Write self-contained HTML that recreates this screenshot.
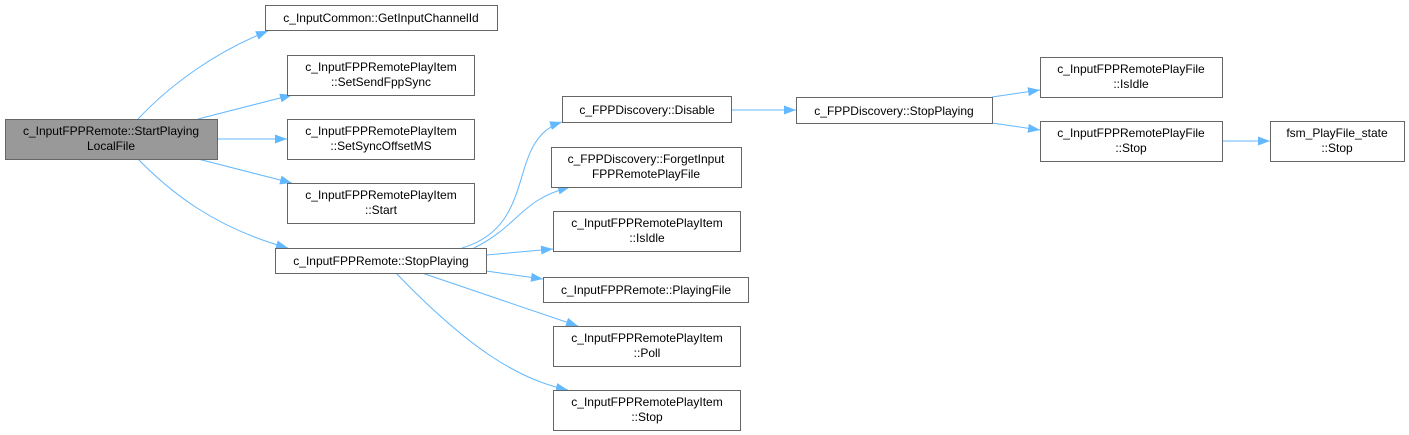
<!DOCTYPE html>
<html><head><meta charset="utf-8"><style>
html,body{margin:0;padding:0;background:#fff;}
svg{display:block}
text{font-family:"Liberation Sans",Arial,sans-serif;font-size:12px;fill:#000;text-anchor:middle}
.n{fill:#fff;stroke:#666;stroke-width:1}
.e{fill:none;stroke:#63b8ff;stroke-width:1}
</style></head><body>
<svg width="1409" height="435" viewBox="0 0 1409 435">
<defs><marker id="a" markerWidth="13" markerHeight="10" refX="12" refY="5" orient="auto" markerUnits="userSpaceOnUse"><path d="M0,0.5 L12,5 L0,9.5 z" fill="#63b8ff"/></marker></defs>
<path class="e" marker-end="url(#a)" d="M138,119 C170,85 215,52 268,31"/>
<path class="e" marker-end="url(#a)" d="M198,119 L292,95"/>
<path class="e" marker-end="url(#a)" d="M217,139 L287,139"/>
<path class="e" marker-end="url(#a)" d="M198,159 L292,183"/>
<path class="e" marker-end="url(#a)" d="M138,159 C170,192 215,228 288,248"/>
<path class="e" marker-end="url(#a)" d="M462,248 C540,225 505,140 562,122"/>
<path class="e" marker-end="url(#a)" d="M474,248 C520,225 520,200 570,187"/>
<path class="e" marker-end="url(#a)" d="M486,255 L553,249"/>
<path class="e" marker-end="url(#a)" d="M486,271 L543,279"/>
<path class="e" marker-end="url(#a)" d="M422,273 L578,326"/>
<path class="e" marker-end="url(#a)" d="M396,273 C470,350 520,380 568,390"/>
<path class="e" marker-end="url(#a)" d="M731,110 L796,110"/>
<path class="e" marker-end="url(#a)" d="M992,97 L1040,90"/>
<path class="e" marker-end="url(#a)" d="M992,123 L1040,130"/>
<path class="e" marker-end="url(#a)" d="M1222,141 L1270,141"/>
<rect x="5.5" y="119.5" width="212" height="40" fill="#999" stroke="#666"/>
<text x="111" y="135">c_InputFPPRemote::StartPlaying</text><text x="111" y="150">LocalFile</text>
<rect class="n" x="265.5" y="5.5" width="232" height="25"/><text x="381" y="22">c_InputCommon::GetInputChannelId</text>
<rect class="n" x="287.5" y="55.5" width="187" height="40"/><text x="381" y="71">c_InputFPPRemotePlayItem</text><text x="381" y="86">::SetSendFppSync</text>
<rect class="n" x="287.5" y="119.5" width="187" height="40"/><text x="381" y="135">c_InputFPPRemotePlayItem</text><text x="381" y="150">::SetSyncOffsetMS</text>
<rect class="n" x="287.5" y="183.5" width="187" height="40"/><text x="381" y="199">c_InputFPPRemotePlayItem</text><text x="381" y="214">::Start</text>
<rect class="n" x="275.5" y="248.5" width="211" height="25"/><text x="381" y="265">c_InputFPPRemote::StopPlaying</text>
<rect class="n" x="562.5" y="96.5" width="169" height="26"/><text x="647" y="114">c_FPPDiscovery::Disable</text>
<rect class="n" x="551.5" y="147.5" width="190" height="40"/><text x="646" y="163">c_FPPDiscovery::ForgetInput</text><text x="646" y="178">FPPRemotePlayFile</text>
<rect class="n" x="553.5" y="211.5" width="187" height="40"/><text x="647" y="227">c_InputFPPRemotePlayItem</text><text x="647" y="242">::IsIdle</text>
<rect class="n" x="543.5" y="277.5" width="205" height="25"/><text x="646" y="294">c_InputFPPRemote::PlayingFile</text>
<rect class="n" x="553.5" y="326.5" width="187" height="40"/><text x="647" y="342">c_InputFPPRemotePlayItem</text><text x="647" y="357">::Poll</text>
<rect class="n" x="553.5" y="390.5" width="187" height="40"/><text x="647" y="406">c_InputFPPRemotePlayItem</text><text x="647" y="421">::Stop</text>
<rect class="n" x="796.5" y="97.5" width="196" height="26"/><text x="894" y="115">c_FPPDiscovery::StopPlaying</text>
<rect class="n" x="1040.5" y="57.5" width="182" height="40"/><text x="1131" y="73">c_InputFPPRemotePlayFile</text><text x="1131" y="88">::IsIdle</text>
<rect class="n" x="1040.5" y="121.5" width="182" height="40"/><text x="1131" y="137">c_InputFPPRemotePlayFile</text><text x="1131" y="152">::Stop</text>
<rect class="n" x="1270.5" y="121.5" width="134" height="40"/><text x="1337" y="137">fsm_PlayFile_state</text><text x="1337" y="152">::Stop</text>
</svg>
</body></html>
